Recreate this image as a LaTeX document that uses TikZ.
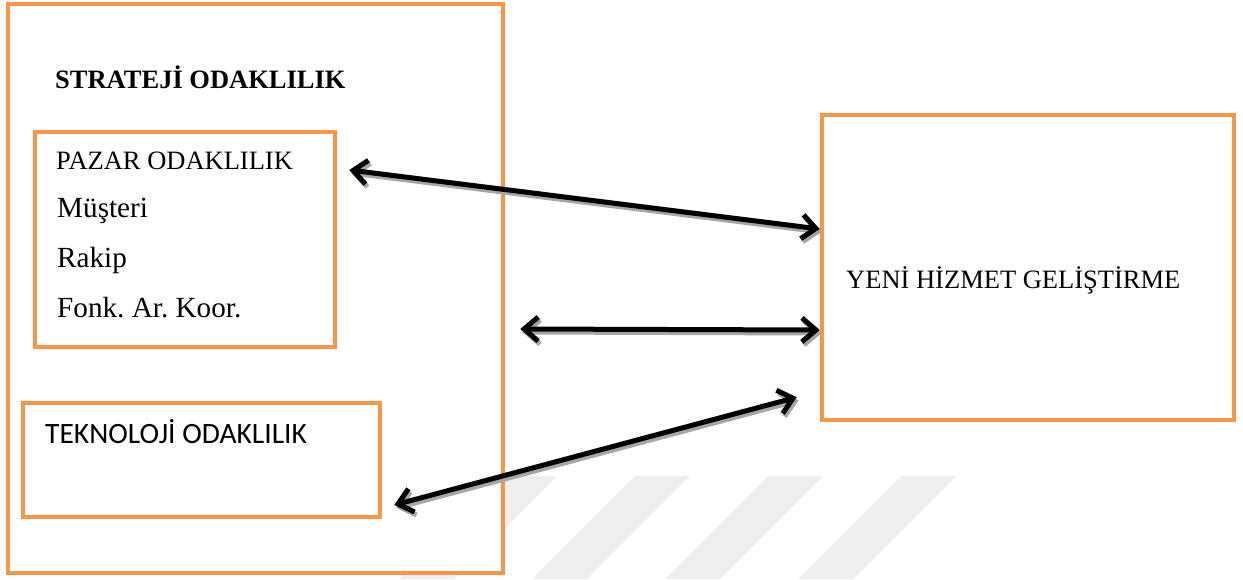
\documentclass[tikz,border=0pt]{standalone}
\usepackage{fontspec}
\setmainfont{Liberation Serif}
\newfontfamily\calibrifont{Carlito}
\usetikzlibrary{arrows.meta,calc}
\definecolor{boxorange}{HTML}{F79646}
\definecolor{stripegray}{HTML}{EEEEEE}
\definecolor{shadowgray}{HTML}{A6A6A6}
\frenchspacing

\begin{document}
\begin{tikzpicture}[x=1pt,y=-1pt,
  frame/.style={draw=boxorange, line width=4.5pt, fill=white, inner sep=0pt},
  txt/.style={anchor=base west, inner sep=0pt, font=\fontsize{26.5}{30}\selectfont},
  bigtxt/.style={txt, font=\fontsize{29.2}{33}\selectfont},
  conn/.style={line width=5pt, line cap=round,
    {Straight Barb[length=14pt,width=24pt]}-{Straight Barb[length=14pt,width=24pt]}},
  connshadow/.style={conn, draw=shadowgray, transform canvas={shift={(2pt,-3pt)}}}
]
\useasboundingbox (0,0) rectangle (1243,579);

% faint diagonal stripes along the bottom
\foreach \l in {502,635,768,901}
  \fill[stripegray] (\l,476) -- (\l+55,476) -- (\l-48,579) -- (\l-103,579) -- cycle;

% boxes
\node[frame, minimum width=495pt, minimum height=569pt] (outer) at (255.5,288.5) {};
\node[frame, minimum width=300pt, minimum height=215pt] (pazar) at (185,239.5) {};
\node[frame, minimum width=357pt, minimum height=114pt] (tekno) at (201.5,460) {};
\node[frame, minimum width=412pt, minimum height=305pt] (yeni) at (1028,267.5) {};

% texts
\node[txt, font=\fontsize{26.5}{30}\selectfont\bfseries] (strat) at (55,88) {STRATEJİ ODAKLILIK};
\node[txt] (pz) at (56,169) {PAZAR ODAKLILIK};
\node[bigtxt] (mus) at (57,217) {Müşteri};
\node[bigtxt] (rak) at (57,267.5) {Rakip};
\node[bigtxt] (fonk) at (57,317.5) {Fonk. Ar. Koor.};
\node[txt, font=\fontsize{29.5}{33}\selectfont\calibrifont] (tk) at (45,443) {TEKNOLOJİ ODAKLILIK};
\node[txt] (yh) at (846,288.5) {YENİ HİZMET GELİŞTİRME};

% connector end points
\coordinate (a1l) at ([shift={(12pt,69.5pt)}]pazar.east);
\coordinate (a1r) at ([yshift=38.5pt]yeni.west);
\coordinate (a2l) at ([shift={(15pt,-40.5pt)}]outer.east);
\coordinate (a2r) at ([yshift=-62.5pt]yeni.west);
\coordinate (a3l) at ([shift={(12pt,-45pt)}]tekno.east);
\coordinate (a3r) at ([shift={(-23pt,25pt)}]yeni.south west);

% connector shadows
\draw[connshadow] (a1l) -- (a1r);
\draw[connshadow] (a2l) -- (a2r);
\draw[connshadow] (a3l) -- (a3r);

% connectors
\draw[conn] (a1l) -- (a1r);
\draw[conn] (a2l) -- (a2r);
\draw[conn] (a3l) -- (a3r);
\end{tikzpicture}
\end{document}
